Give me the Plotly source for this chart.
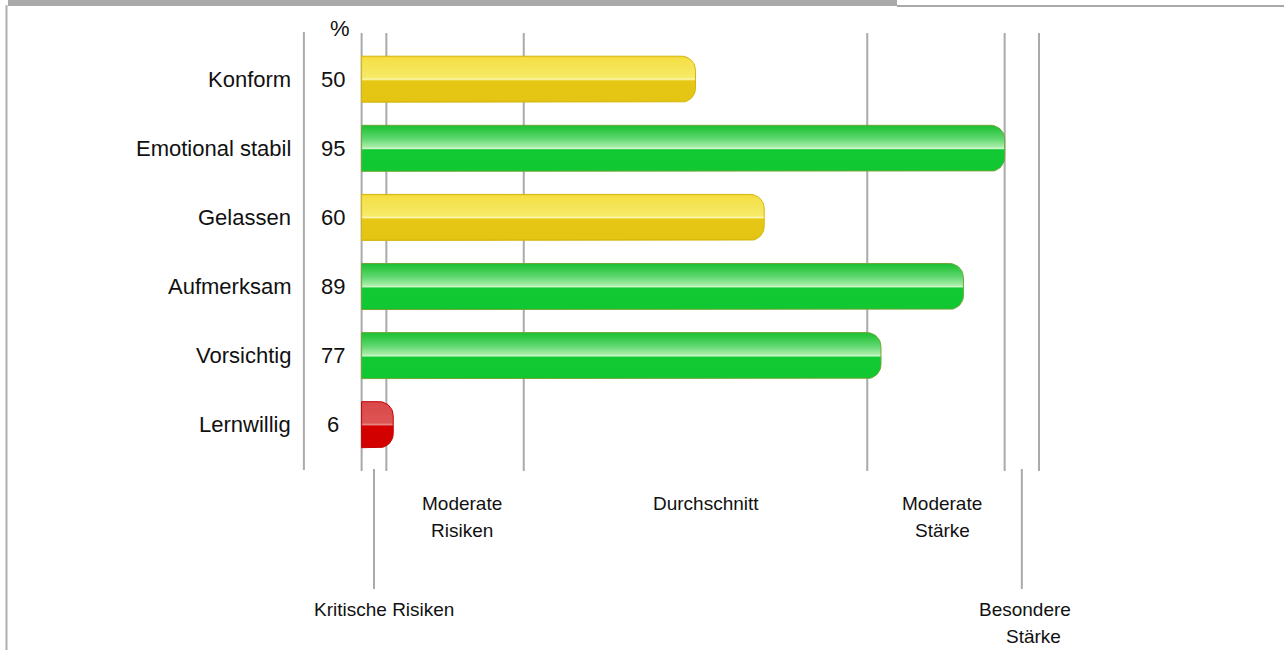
import numpy as np
import plotly.graph_objects as go

# ---------------- data ----------------
categories = ["Konform", "Emotional stabil", "Gelassen", "Aufmerksam", "Vorsichtig", "Lernwillig"]
values = [50, 95, 60, 89, 77, 6]
value_labels = ["50", "95", "60", "89", "77", "6"]

# band boundaries (percent scale) and band labels
band_bounds = [1.4, 5, 25, 75, 95, 100]
upper_labels = [("Moderate", "Risiken"), ("Durchschnitt",), ("Moderate", "Stärke")]
upper_label_x = [16.0, 51.5, 85.9]
lower_labels = [("Kritische Risiken",), ("Besondere", "Stärke")]
lower_label_x = [4.6, 98.0]
lower_label_dx = [(0.0,), (0.0, 1.15)]

# ---------------- layout constants ----------------
W, H = 1284, 650
ZERO_PX = 352.0          # pixel of 0 %
PX_X = 6.87              # pixels per percent
ROW0_PX = 79.2           # pixel centre of first row
PX_Y = 69.1              # pixels per row
XMIN = -ZERO_PX / PX_X
XMAX = (W - ZERO_PX) / PX_X
n = len(categories)
YMAX = (n - 1) + ROW0_PX / PX_Y
YMIN = YMAX - H / PX_Y
HALF = 23.0 / PX_Y       # half bar height (rows)
RAD = 14.0               # corner radius px
FONT = "Liberation Sans, Arial, sans-serif"
GRID = "#aaaaaa"

def py(px):
    """pixel y -> paper y"""
    return 1 - px / H

palette = {
    "red": dict(line="#c40000", scale=[[0, "#d20000"], [0.47, "#d40000"], [0.5, "#e88a8a"],
                                        [0.54, "#dd5555"], [1, "#da4848"]]),
    "yellow": dict(line="#d6b60a", scale=[[0, "#dcb80c"], [0.04, "#e5c513"], [0.46, "#e6c716"],
                                           [0.48, "#f2de50"], [0.5, "#fff9bc"], [0.53, "#f6ea68"],
                                           [0.8, "#f4e352"], [0.95, "#f6df44"], [1, "#efcf2c"]]),
    "green": dict(line="#6ea836", scale=[[0, "#10c230"], [0.04, "#10c832"], [0.47, "#12c934"],
                                          [0.49, "#d2fad2"], [0.53, "#a8eda8"], [0.7, "#62d872"],
                                          [0.92, "#2ac640"], [1, "#1cbf36"]]),
}

def colour_class(v):
    if v < band_bounds[2]:
        return "red"
    if v < band_bounds[3]:
        return "yellow"
    return "green"

def rounded_bar(x0, x1, yc, h, rx, ry, k=14):
    xs, ys = [x0], [yc - h]
    a = np.linspace(-np.pi / 2, 0, k)
    xs += list(x1 - rx + rx * np.cos(a)); ys += list(yc - h + ry + ry * np.sin(a))
    a = np.linspace(0, np.pi / 2, k)
    xs += list(x1 - rx + rx * np.cos(a)); ys += list(yc + h - ry + ry * np.sin(a))
    xs += [x0, x0]; ys += [yc + h, yc - h]
    return xs, ys

fig = go.Figure()
rx = RAD / PX_X
ry = RAD / PX_Y
for i, (cat, v) in enumerate(zip(categories, values)):
    yc = n - 1 - i
    c = palette[colour_class(v)]
    xs, ys = rounded_bar(band_bounds[0], v, yc, HALF, rx, ry)
    fig.add_trace(go.Scatter(
        x=xs, y=ys, mode="lines", fill="toself",
        line=dict(color=c["line"], width=1),
        fillgradient=dict(type="vertical", colorscale=c["scale"], start=yc - HALF, stop=yc + HALF),
        hoverinfo="skip", showlegend=False, name=cat))

shapes = []
# frame
shapes.append(dict(type="rect", xref="paper", yref="paper", x0=8 / W, x1=897 / W, y0=py(6), y1=1,
                   fillcolor="#a9a9a9", line_width=0, layer="below"))
shapes.append(dict(type="line", xref="paper", yref="paper", x0=897 / W, x1=1, y0=py(6), y1=py(6),
                   line=dict(color="#a9a9a9", width=2), layer="below"))
shapes.append(dict(type="line", xref="paper", yref="paper", x0=6.5 / W, x1=6.5 / W, y0=py(5), y1=0,
                   line=dict(color="#b0b0b0", width=2), layer="below"))
# left axis line
shapes.append(dict(type="line", xref="x", yref="paper", x0=-7, x1=-7, y0=py(32), y1=py(470),
                   line=dict(color=GRID, width=2), layer="below"))
# band lines
for b in band_bounds:
    shapes.append(dict(type="line", xref="x", yref="paper", x0=b, x1=b, y0=py(33), y1=py(471),
                       line=dict(color=GRID, width=2), layer="below"))
# pointer lines for the narrow bands
for bx in [(band_bounds[0] + band_bounds[1]) / 2, (band_bounds[4] + band_bounds[5]) / 2]:
    shapes.append(dict(type="line", xref="x", yref="paper", x0=bx, x1=bx, y0=py(469), y1=py(589),
                       line=dict(color=GRID, width=2), layer="below"))

ann = []
for i, (cat, lab) in enumerate(zip(categories, value_labels)):
    yc = n - 1 - i
    ann.append(dict(x=-8.6, y=yc, xref="x", yref="y", text=cat, showarrow=False,
                    xanchor="right", yanchor="middle", font=dict(family=FONT, size=22, color="#111111")))
    ann.append(dict(x=-2.75, y=yc, xref="x", yref="y", text=lab, showarrow=False,
                    xanchor="center", yanchor="middle", font=dict(family=FONT, size=22, color="#111111")))
ann.append(dict(x=-1.8, y=py(28), xref="x", yref="paper", text="%", showarrow=False,
                xanchor="center", yanchor="middle", font=dict(family=FONT, size=22, color="#111111")))

for lines, lx in zip(upper_labels, upper_label_x):
    for j, t in enumerate(lines):
        ann.append(dict(x=lx, y=py(503 + 27 * j), xref="x", yref="paper", text=t, showarrow=False,
                        xanchor="center", yanchor="middle", font=dict(family=FONT, size=19, color="#111111")))
for lines, lx, dxs in zip(lower_labels, lower_label_x, lower_label_dx):
    for j, t in enumerate(lines):
        ann.append(dict(x=lx + dxs[j], y=py(609 + 27 * j), xref="x", yref="paper", text=t, showarrow=False,
                        xanchor="center", yanchor="middle", font=dict(family=FONT, size=19, color="#111111")))

fig.update_layout(
    width=W, height=H, margin=dict(l=0, r=0, t=0, b=0),
    paper_bgcolor="white", plot_bgcolor="white",
    xaxis=dict(range=[XMIN, XMAX], visible=False, fixedrange=True),
    yaxis=dict(range=[YMIN, YMAX], visible=False, fixedrange=True),
    shapes=shapes, annotations=ann, showlegend=False,
)

fig.write_html("out.html", config={"displayModeBar": False},
               post_script="document.body.style.margin='0';document.body.style.overflow='hidden';")
